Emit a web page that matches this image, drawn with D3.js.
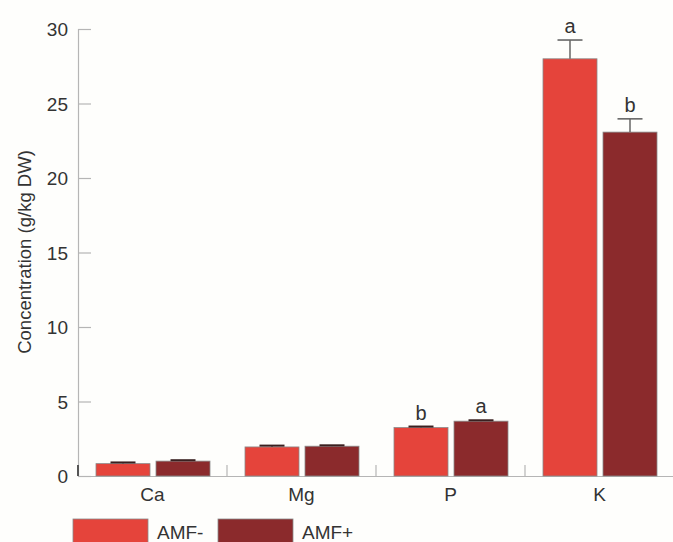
<!DOCTYPE html>
<html>
<head>
<meta charset="utf-8">
<script src="https://cdn.jsdelivr.net/npm/d3@7"></script>
<style>
  html, body { margin: 0; padding: 0; background: #fefefc; }
  svg { display: block; }
  text { font-family: "Liberation Sans", Arial, sans-serif; fill: #333; }
</style>
</head>
<body>
<svg id="chart" width="673" height="542"></svg>
<script>
// Nutrient concentrations in shoots, without (AMF-) and with (AMF+) mycorrhizal fungi
const nutrients = ["Ca", "Mg", "P", "K"];
const groups = ["AMF-", "AMF+"];
const amfMinus = [0.83, 1.95, 3.25, 28.0];
const amfPlus = [1.0, 2.0, 3.68, 23.08];
const errMinus = [0.08, 0.09, 0.07, 1.26];
const errPlus = [0.06, 0.06, 0.06, 0.89];
const lettersMinus = ["", "", "b", "a"];
const lettersPlus = ["", "", "a", "b"];
const yTicks = [0, 5, 10, 15, 20, 25, 30];
const colors = ["#e5443b", "#8b2a2c"];

const svg = d3.select("#chart");
const plotLeft = 78, plotRight = 674, plotTop = 29, plotBottom = 476;

const x = d3.scaleBand().domain(nutrients).range([plotLeft, plotRight]).padding(0);
const xg = d3.scaleBand().domain(groups).range([18, 132]).paddingInner(0.1);
const y = d3.scaleLinear().domain([0, 30]).range([plotBottom, plotTop]);
const color = d3.scaleOrdinal().domain(groups).range(colors);

const rows = nutrients.map((n, i) => ({
  n,
  bars: [
    { g: groups[0], v: amfMinus[i], e: errMinus[i], l: lettersMinus[i] },
    { g: groups[1], v: amfPlus[i], e: errPlus[i], l: lettersPlus[i] }
  ]
}));

// Y axis with inward ticks
const yAxis = svg.append("g").attr("transform", `translate(${plotLeft},0)`)
  .call(d3.axisRight(y).tickValues(yTicks).tickSize(13).tickFormat(d3.format("d")));
yAxis.select(".domain").attr("stroke", "#b5b5b5").attr("stroke-width", 1.2);
yAxis.selectAll(".tick line").attr("stroke", "#b5b5b5").attr("stroke-width", 1.2);
yAxis.selectAll(".tick text")
  .attr("x", -10).attr("text-anchor", "end").attr("dy", "0.36em")
  .style("font-size", "19px").style("font-family", "Liberation Sans, Arial, sans-serif").attr("fill", "#333");

// X axis: category boundaries drawn as short upward ticks
const xAxis = svg.append("g").attr("transform", `translate(0,${plotBottom})`)
  .call(d3.axisBottom(x).tickSize(0).tickPadding(12));
xAxis.select(".domain").attr("stroke", "#b5b5b5").attr("stroke-width", 1.2);
xAxis.selectAll(".tick text")
  .style("font-size", "19px").style("font-family", "Liberation Sans, Arial, sans-serif").attr("fill", "#333")
  .attr("dy", "0.71em");
const bounds = nutrients.map(n => x(n)).concat([x(nutrients[nutrients.length - 1]) + x.bandwidth()]);
svg.append("g").selectAll("line").data(bounds).join("line")
  .attr("x1", d => d).attr("x2", d => d)
  .attr("y1", plotBottom - 11).attr("y2", plotBottom)
  .attr("stroke", (d, i) => i === 0 ? "#555" : "#b5b5b5").attr("stroke-width", (d, i) => i === 0 ? 2 : 1.2);

// Bars
const cat = svg.append("g").selectAll("g").data(rows).join("g")
  .attr("transform", d => `translate(${x(d.n)},0)`);

const bar = cat.selectAll("g").data(d => d.bars).join("g");

bar.append("rect")
  .attr("x", d => xg(d.g))
  .attr("width", xg.bandwidth())
  .attr("y", d => y(d.v))
  .attr("height", d => y(0) - y(d.v))
  .attr("fill", d => color(d.g))
  .attr("stroke", "#8a8a8a").attr("stroke-width", 0.8);

// Upper error bars
bar.append("line")
  .attr("x1", d => xg(d.g) + xg.bandwidth() / 2)
  .attr("x2", d => xg(d.g) + xg.bandwidth() / 2)
  .attr("y1", d => y(d.v)).attr("y2", d => y(d.v + d.e))
  .attr("stroke", "#666").attr("stroke-width", 1.5);
bar.append("line")
  .attr("x1", d => xg(d.g) + xg.bandwidth() / 2 - 12.5)
  .attr("x2", d => xg(d.g) + xg.bandwidth() / 2 + 12.5)
  .attr("y1", d => y(d.v + d.e)).attr("y2", d => y(d.v + d.e))
  .attr("stroke", d => d.e < 0.5 ? "#3a2020" : "#666").attr("stroke-width", d => d.e < 0.5 ? 2 : 1.6);

// Significance letters
bar.append("text")
  .attr("x", d => xg(d.g) + xg.bandwidth() / 2)
  .attr("y", d => y(d.v + d.e) - 7)
  .attr("text-anchor", "middle")
  .style("font-size", "20px")
  .text(d => d.l);

// Y axis title
svg.append("text")
  .attr("transform", "translate(31,252) rotate(-90)")
  .attr("text-anchor", "middle")
  .style("font-size", "18.5px")
  .text("Concentration (g/kg DW)");

// Legend
const legend = svg.append("g").selectAll("g").data(groups).join("g")
  .attr("transform", (d, i) => `translate(${73 + i * 145},519)`);
legend.append("rect")
  .attr("width", 75).attr("height", 30)
  .attr("fill", d => color(d)).attr("stroke", "#8a8a8a").attr("stroke-width", 0.8);
legend.append("text")
  .attr("x", 84).attr("y", 20)
  .style("font-size", "19px")
  .text(d => d);
</script>
</body>
</html>
